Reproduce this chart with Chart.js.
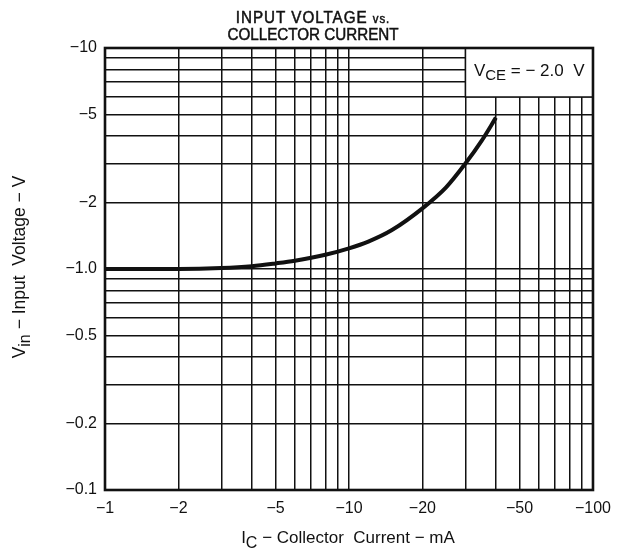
<!DOCTYPE html>
<html>
<head>
<meta charset="utf-8">
<script src="https://cdn.jsdelivr.net/npm/chart.js@4/dist/chart.umd.min.js"></script>
<style>
  html, body { margin: 0; padding: 0; background: #fff; }
  #wrap { width: 620px; height: 550px; position: relative; }
</style>
</head>
<body>
<div id="wrap"><canvas id="c" width="620" height="550"></canvas></div>
<script>
// ---- data (PNP device: negative polarity) ----
const collectorCurrentMA = [-1, -2, -3, -4, -5, -6, -8, -10, -12, -15, -20, -25, -30, -35, -40];
const inputVoltageV      = [-1.0, -1.0, -1.01, -1.03, -1.06, -1.09, -1.16, -1.24, -1.33, -1.50, -1.88, -2.34, -3.0, -3.81, -4.84];

// ---- axis ticks / grid ----
const xTickValues = [-1, -2, -5, -10, -20, -50, -100];
const xTickLabels = ['\u22121', '\u22122', '\u22125', '\u221210', '\u221220', '\u221250', '\u2212100'];
const xGridValues = [-1, -2, -3, -4, -5, -6, -7, -8, -9, -10, -20, -30, -40, -50, -60, -70, -80, -90, -100];
const yTickValues = [-0.1, -0.2, -0.5, -1, -2, -5, -10];
const yTickLabels = ['\u22120.1', '\u22120.2', '\u22120.5', '\u22121.0', '\u22122', '\u22125', '\u221210'];
const yGridValues = [-0.1, -0.2, -0.3, -0.4, -0.5, -0.6, -0.7, -0.8, -0.9, -1, -2, -3, -4, -5, -6, -7, -8, -9, -10];

// texts
const titleLine1 = 'INPUT VOLTAGE ';
const titleLine1b = 'vs.';
const titleLine2 = 'COLLECTOR CURRENT';
const xTitleParts = [['I', 0], ['C', 1], [' \u2212 Collector  Current \u2212 mA', 0]];
const yTitleParts = [['V', 0], ['in', 1], [' \u2212 Input  Voltage \u2212 V', 0]];
const vceParts = [['V', 0], ['CE', 1], [' = \u2212 2.0  V', 0]];

const FONT = '"Liberation Sans", Arial, Helvetica, sans-serif';

// magnitudes for log scales
const points = collectorCurrentMA.map((c, i) => ({ x: Math.abs(c), y: Math.abs(inputVoltageV[i]) }));
const mag = v => Math.abs(v);

function labelFor(values, labels, v) {
  for (let i = 0; i < values.length; i++) {
    if (Math.abs(mag(values[i]) - v) < 1e-9 * Math.max(1, v)) return labels[i];
  }
  return '';
}

function drawParts(ctx, parts, x, y, size, subSize, subDrop, align) {
  let total = 0;
  const widths = parts.map(p => {
    ctx.font = (p[1] ? subSize : size) + 'px ' + FONT;
    const w = ctx.measureText(p[0]).width;
    total += w;
    return w;
  });
  let cx = align === 'center' ? x - total / 2 : (align === 'right' ? x - total : x);
  ctx.textAlign = 'left';
  ctx.textBaseline = 'alphabetic';
  parts.forEach((p, i) => {
    ctx.font = (p[1] ? subSize : size) + 'px ' + FONT;
    ctx.fillText(p[0], cx, y + (p[1] ? subDrop : 0));
    cx += widths[i];
  });
}

const decor = {
  id: 'decor',
  afterDraw(chart) {
    const ctx = chart.ctx;
    const a = chart.chartArea;
    const xs = chart.scales.x, ys = chart.scales.y;
    ctx.save();

    // condition box (top-right)
    const bx = xs.getPixelForValue(30), by = ys.getPixelForValue(6);
    ctx.fillStyle = '#fff';
    ctx.fillRect(bx, a.top, a.right - bx, by - a.top);
    ctx.strokeStyle = '#111';
    ctx.lineWidth = 1.6;
    ctx.beginPath();
    ctx.moveTo(bx, a.top); ctx.lineTo(bx, by); ctx.lineTo(a.right, by);
    ctx.stroke();
    ctx.fillStyle = '#111';
    drawParts(ctx, vceParts, (bx + a.right) / 2, a.top + 28, 17, 15, 4, 'center');

    // frame
    ctx.lineWidth = 2.6;
    ctx.strokeRect(a.left, a.top, a.right - a.left, a.bottom - a.top);

    // title (slightly condensed, heavier)
    ctx.save();
    ctx.translate(313, 0);
    ctx.scale(0.95, 1);
    ctx.strokeStyle = '#111';
    ctx.lineWidth = 0.5;
    ctx.textBaseline = 'alphabetic';
    ctx.textAlign = 'left';
    ctx.letterSpacing = '1px';
    ctx.font = '16px ' + FONT;
    const w1 = ctx.measureText(titleLine1).width;
    ctx.font = '12px ' + FONT;
    const w1b = ctx.measureText(titleLine1b).width;
    ctx.font = '16px ' + FONT;
    ctx.fillText(titleLine1, -(w1 + w1b) / 2, 23);
    ctx.strokeText(titleLine1, -(w1 + w1b) / 2, 23);
    ctx.font = '12px ' + FONT;
    ctx.fillText(titleLine1b, -(w1 + w1b) / 2 + w1, 23);
    ctx.strokeText(titleLine1b, -(w1 + w1b) / 2 + w1, 23);
    ctx.letterSpacing = '0px';
    ctx.font = '16px ' + FONT;
    ctx.textAlign = 'center';
    ctx.fillText(titleLine2, 0, 40);
    ctx.strokeText(titleLine2, 0, 40);
    ctx.restore();

    // x axis title
    drawParts(ctx, xTitleParts, 348, 543, 17, 16, 5, 'center');

    // y axis title
    ctx.save();
    ctx.translate(25, 267);
    ctx.rotate(-Math.PI / 2);
    drawParts(ctx, yTitleParts, 0, 0, 17.5, 16, 5, 'center');
    ctx.restore();

    ctx.restore();
  }
};

new Chart(document.getElementById('c'), {
  type: 'line',
  data: {
    datasets: [{
      data: points,
      borderColor: '#111',
      borderWidth: 4,
      pointRadius: 0,
      fill: false,
      cubicInterpolationMode: 'monotone'
    }]
  },
  options: {
    responsive: false,
    animation: false,
    events: [],
    layout: { padding: { top: 48, right: 25, left: 0, bottom: 0 } },
    plugins: { legend: { display: false }, title: { display: false }, tooltip: { enabled: false } },
    scales: {
      x: {
        type: 'logarithmic',
        min: 1, max: 100,
        afterBuildTicks(s) { s.ticks = xGridValues.map(v => ({ value: mag(v) })); },
        afterFit(s) { s.height = 60; },
        grid: { color: '#111', lineWidth: 1.5, drawTicks: false },
        border: { display: false },
        ticks: {
          autoSkip: false, maxRotation: 0, padding: 9,
          color: '#111', font: { family: FONT, size: 16 },
          callback: v => labelFor(xTickValues, xTickLabels, v)
        }
      },
      y: {
        type: 'logarithmic',
        min: 0.1, max: 10,
        afterBuildTicks(s) { s.ticks = yGridValues.map(v => ({ value: mag(v) })); },
        afterFit(s) { s.width = 105; },
        grid: { color: '#111', lineWidth: 1.5, drawTicks: false },
        border: { display: false },
        ticks: {
          autoSkip: false, padding: 8,
          color: '#111', font: { family: FONT, size: 16 },
          callback: v => labelFor(yTickValues, yTickLabels, v)
        }
      }
    }
  },
  plugins: [decor]
});
</script>
</body>
</html>
